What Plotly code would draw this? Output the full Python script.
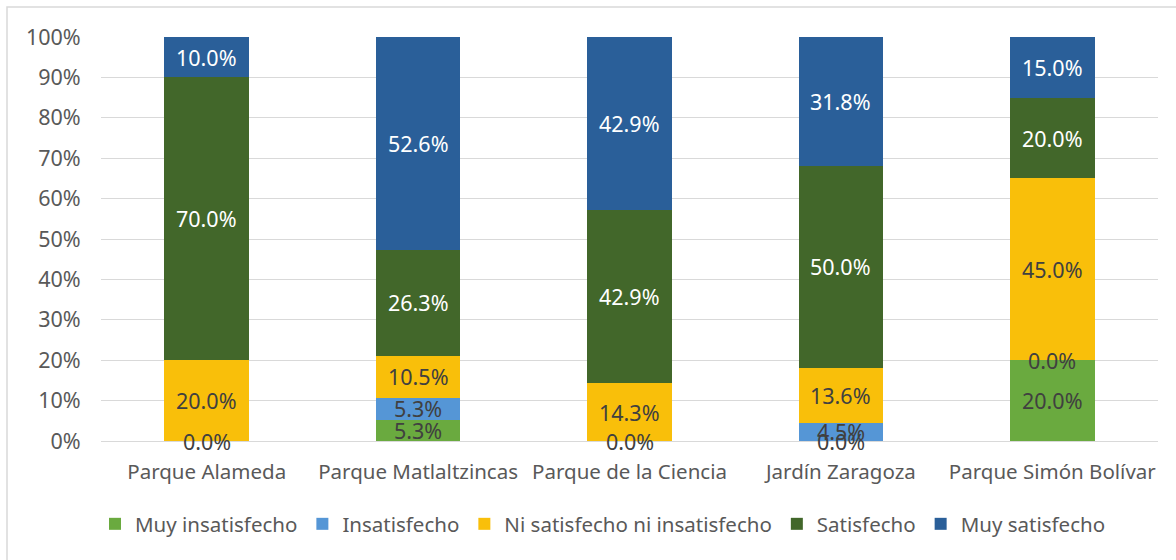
import plotly.graph_objects as go

categories = ["Parque Alameda", "Parque Matlaltzincas", "Parque de la Ciencia", "Jardín Zaragoza", "Parque Simón Bolívar"]
muy_insatisfecho = [0.0, 5.3, 0.0, 0.0, 20.0]
insatisfecho = [None, 5.3, None, 4.5, 0.0]
ni_ni = [20.0, 10.5, 14.3, 13.6, 45.0]
satisfecho = [70.0, 26.3, 42.9, 50.0, 20.0]
muy_satisfecho = [10.0, 52.6, 42.9, 31.8, 15.0]
y_ticks = [0, 10, 20, 30, 40, 50, 60, 70, 80, 90, 100]
y_tick_labels = [f"{t}%" for t in y_ticks]

series = [
    ("Muy insatisfecho", muy_insatisfecho, "#6AAA3F", "#404040"),
    ("Insatisfecho", insatisfecho, "#5596D6", "#404040"),
    ("Ni satisfecho ni insatisfecho", ni_ni, "#F9BF0A", "#404040"),
    ("Satisfecho", satisfecho, "#42672A", "#FFFFFF"),
    ("Muy satisfecho", muy_satisfecho, "#2A5F99", "#FFFFFF"),
]

FONT = "Noto Sans"
FS_DATA = 21.5
FS_TICK = 21.5
FS_CAT = 20.5
FS_LEG = 20.5
fig = go.Figure()
annotations = []
base = [0.0] * len(categories)
for name, vals, color, tcolor in series:
    fig.add_trace(go.Bar(
        x=categories, y=[v if v is not None else 0 for v in vals], name=name,
        marker=dict(color=color, line=dict(width=0)),
    ))
    for i, v in enumerate(vals):
        if v is None:
            continue
        annotations.append(dict(
            x=categories[i], y=base[i] + v / 2, xref="x", yref="y",
            text=f"{v:.1f}%", showarrow=False,
            font=dict(family=FONT, size=FS_DATA, color=tcolor),
        ))
        base[i] += v

L, R, T, B = 101, 18, 37, 119
W, H = 1176, 560
pw, ph = W - L - R, H - T - B
px = lambda p: (p - L) / pw
py = lambda p: (H - B - p) / ph

fig.update_layout(
    barmode="stack", bargap=0.6,
    width=W, height=H,
    margin=dict(l=L, r=R, t=T, b=B),
    plot_bgcolor="white", paper_bgcolor="white",
    font=dict(family=FONT, size=FS_TICK, color="#595959"),
    showlegend=True,
    legend=dict(orientation="h", x=px(603), xanchor="center", y=py(524), yanchor="middle",
                font=dict(family=FONT, size=FS_LEG, color="#595959"), traceorder="normal",
                itemwidth=30),
    annotations=annotations,
    shapes=[dict(type="rect", xref="paper", yref="paper", x0=px(7), x1=px(1200), y0=py(7), y1=py(600),
                 line=dict(color="#D9D9D9", width=1.5), fillcolor="rgba(0,0,0,0)", layer="below")],
)
fig.update_yaxes(range=[0, 100], tickvals=y_ticks, ticktext=y_tick_labels, showgrid=True,
                 gridcolor="#D9D9D9", gridwidth=1, zeroline=False, showline=False,
                 ticks="outside", ticklen=15, tickcolor="rgba(0,0,0,0)",
                 tickfont=dict(family=FONT, size=FS_TICK, color="#595959"))
fig.update_xaxes(showline=True, linecolor="#D9D9D9", linewidth=1, ticks="outside", ticklen=12,
                 tickcolor="rgba(0,0,0,0)", tickfont=dict(family=FONT, size=FS_CAT, color="#595959"))

fig.write_html("out.html", config={"displayModeBar": False},
               post_script="document.body.style.margin='0';document.body.style.overflow='hidden';")
